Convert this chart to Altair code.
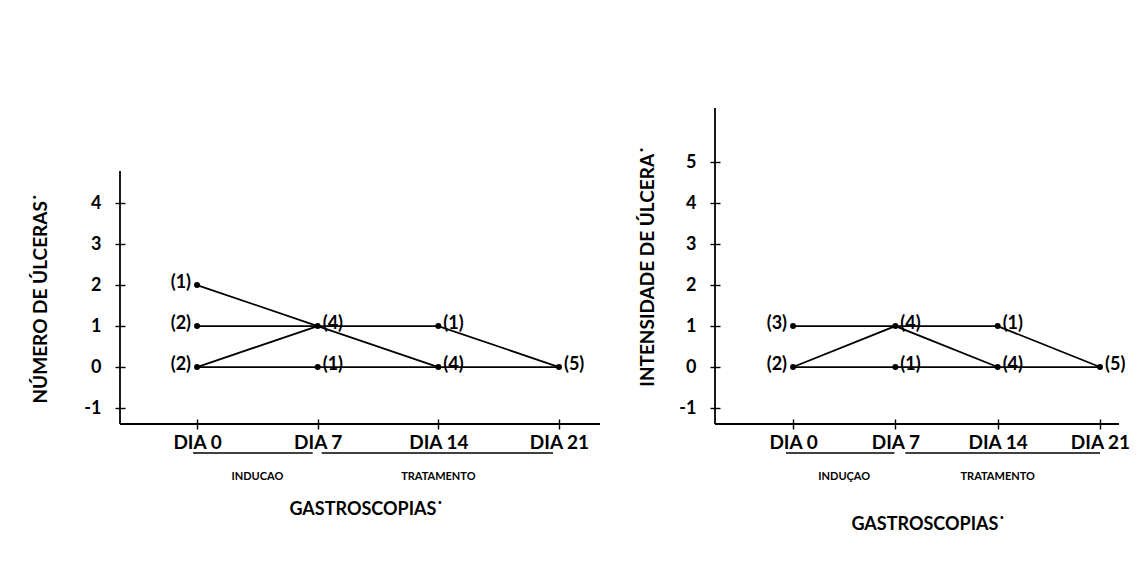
import altair as alt
import pandas as pd

FONT = "Lato"

# Gastroscopy days shown on the x axis
days = [0, 7, 14, 21]

# Panel A - number of ulcers: observed points and number of animals at each
a_day = [0, 0, 0, 7, 7, 14, 14, 21]
a_val = [2, 1, 0, 1, 0, 1, 0, 0]
a_n = ["(1)", "(2)", "(2)", "(4)", "(1)", "(1)", "(4)", "(5)"]

# Panel A - individual trajectories (path id, day, value)
a_path = [1, 1, 1, 2, 2, 2, 2, 3, 3, 4, 4]
a_path_day = [0, 7, 14, 0, 7, 14, 21, 0, 7, 0, 21]
a_path_val = [2, 1, 0, 1, 1, 1, 0, 0, 1, 0, 0]

# Panel B - ulcer intensity: observed points and number of animals at each
b_day = [0, 0, 7, 7, 14, 14, 21]
b_val = [1, 0, 1, 0, 1, 0, 0]
b_n = ["(3)", "(2)", "(4)", "(1)", "(1)", "(4)", "(5)"]

# Panel B - individual trajectories
b_path = [1, 1, 1, 1, 2, 2, 2, 3, 3]
b_path_day = [0, 7, 14, 21, 0, 7, 14, 0, 21]
b_path_val = [1, 1, 1, 0, 0, 1, 0, 0, 0]

# Study periods drawn under the x axis
period_start = [0, 7]
period_end = [7, 21]

H = 316
Y_DOMAIN = [-1.39, 6.32]


def panel(day, val, n, path, path_day, path_val, width, x_domain, y_top,
          y_ticks, y_title, y_title_xy, x_title_xy, period_names, period_dx):
    xs = alt.Scale(domain=x_domain, nice=False, zero=False)
    ys = alt.Scale(domain=Y_DOMAIN, nice=False, zero=False)

    x_axis = alt.Axis(
        values=days, labelExpr="'DIA ' + datum.value", domain=False,
        grid=False, offset=-5, tickSize=10, tickColor="black", tickWidth=1.4,
        labelFont=FONT, labelFontSize=19, labelFontWeight="bold",
        labelColor="black", labelPadding=4, labelFlush=False,
        labelOverlap=False,
        title="GASTROSCOPIAS˙", titleFont=FONT, titleFontSize=18,
        titleFontWeight="bold", titleColor="black",
        titleX=x_title_xy[0], titleY=x_title_xy[1], titleBaseline="middle",
        titleAlign="center", titleAngle=0,
    )
    y_axis = alt.Axis(
        values=y_ticks, domain=False, grid=False, offset=-5, tickSize=10,
        labelExpr="datum.value < 0 ? '-' + (-datum.value) : '' + datum.value",
        tickColor="black", tickWidth=1.4, labelFont=FONT, labelFontSize=18,
        labelFontWeight="bold", labelColor="black", labelPadding=14,
        labelFlush=False, labelOverlap=False,
        title=y_title, titleFont=FONT, titleFontSize=19,
        titleFontWeight="bold", titleColor="black",
        titleX=y_title_xy[0], titleY=y_title_xy[1], titleBaseline="middle",
        titleAlign="center", titleAngle=-90,
    )

    def X(field):
        return alt.X(field, scale=xs, axis=x_axis)

    def Y(field):
        return alt.Y(field, scale=ys, axis=y_axis)

    pts = pd.DataFrame({"day": day, "val": val, "n": n})
    paths = pd.DataFrame({"path": path, "day": path_day, "val": path_val,
                          "step": list(range(len(path)))})

    lines = alt.Chart(paths).mark_line(color="black", strokeWidth=1.8).encode(
        x=X("day:Q"), y=Y("val:Q"), detail="path:N", order="step:Q"
    )
    dots = alt.Chart(pts).mark_circle(color="black", opacity=1, size=36).encode(
        x=X("day:Q"), y=Y("val:Q")
    )
    left_lbl = alt.Chart(pts).transform_filter("datum.day == 0").mark_text(
        align="right", baseline="middle", dx=-6, dy=-2, font=FONT, fontSize=18,
        fontWeight="bold", color="black"
    ).encode(x=X("day:Q"), y=Y("val:Q"), text="n:N")
    right_lbl = alt.Chart(pts).transform_filter("datum.day > 0").mark_text(
        align="left", baseline="middle", dx=5, dy=-2, font=FONT, fontSize=18,
        fontWeight="bold", color="black"
    ).encode(x=X("day:Q"), y=Y("val:Q"), text="n:N")

    # axis lines
    y_line = alt.Chart(pd.DataFrame({"day": [x_domain[0]], "val": [Y_DOMAIN[0]],
                                     "val2": [y_top]})).mark_rule(
        color="black", strokeWidth=1.8).encode(x=X("day:Q"), y=Y("val:Q"), y2="val2:Q")
    x_line = alt.Chart(pd.DataFrame({"day": [x_domain[0]], "day2": [x_domain[1]],
                                     "val": [Y_DOMAIN[0]]})).mark_rule(
        color="black", strokeWidth=1.8).encode(x=X("day:Q"), x2="day2:Q", y=Y("val:Q"))

    # study periods under the axis
    per = pd.DataFrame({"day": period_start, "day2": period_end,
                        "name": period_names,
                        "mid": [(a + b) / 2 for a, b in zip(period_start, period_end)]})
    per_rules = []
    for i in range(len(period_start)):
        per_rules.append(
            alt.Chart(per.iloc[[i]]).mark_rule(
                color="black", strokeWidth=1.6,
                xOffset=period_dx[i][0], x2Offset=period_dx[i][1]
            ).encode(x=X("day:Q"), x2="day2:Q", y=alt.value(H + 29))
        )
    per_text = alt.Chart(per).mark_text(
        font=FONT, fontSize=11, fontWeight="bold", color="black",
        baseline="middle", align="center"
    ).encode(x=X("mid:Q"), y=alt.value(H + 53), text="name:N")

    return alt.layer(lines, dots, left_lbl, right_lbl, y_line, x_line,
                     *per_rules, per_text).properties(width=width, height=H)


left = panel(a_day, a_val, a_n, a_path, a_path_day, a_path_val,
             width=480, x_domain=[-4.47, 23.38], y_top=4.78,
             y_ticks=[-1, 0, 1, 2, 3, 4], y_title="NÚMERO DE ÚLCERAS˙",
             y_title_xy=(-85, 190), x_title_xy=(246, 90),
             period_names=["INDUCAO", "TRATAMENTO"],
             period_dx=[(-4, -5), (4, -6)])

right = panel(b_day, b_val, b_n, b_path, b_path_day, b_path_val,
              width=404, x_domain=[-5.34, 22.3], y_top=Y_DOMAIN[1],
              y_ticks=[-1, 0, 1, 2, 3, 4, 5], y_title="INTENSIDADE DE ÚLCERA˙",
              y_title_xy=(-73, 158), x_title_xy=(213, 105),
              period_names=["INDUÇAO", "TRATAMENTO"],
              period_dx=[(-7, -1), (10, 0)])

chart = alt.hconcat(left, right, spacing=37).properties(
    padding={"left": 31, "top": 107, "right": 10, "bottom": 10},
    background="white",
).configure_view(stroke=None)

chart.save("out.html", embed_options={"renderer": "svg", "actions": False})
